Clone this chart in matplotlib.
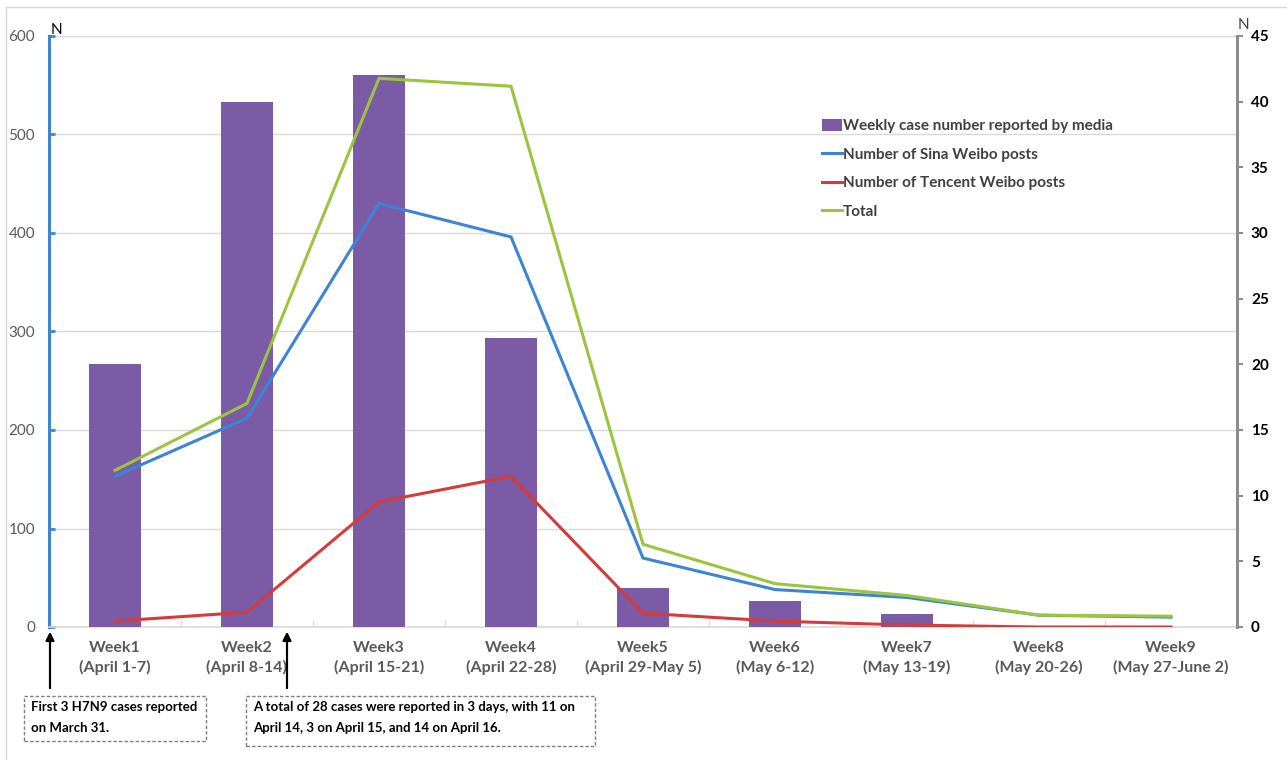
import matplotlib
matplotlib.use("Agg")
import matplotlib.pyplot as plt
from matplotlib.lines import Line2D
from matplotlib.patches import Rectangle, Patch

plt.rcParams['font.family'] = ['Lato', 'DejaVu Sans']

# Weekly data, April 1 - June 2
weeks = ["Week1", "Week2", "Week3", "Week4", "Week5",
         "Week6", "Week7", "Week8", "Week9"]
date_ranges = ["(April 1-7)", "(April 8-14)", "(April 15-21)", "(April 22-28)",
               "(April 29-May 5)", "(May 6-12)", "(May 13-19)", "(May 20-26)",
               "(May 27-June 2)"]
cases_reported = [20, 40, 42, 22, 3, 2, 1, 0, 0]
sina_posts = [153, 212, 430, 396, 70, 38, 30, 12, 10]
tencent_posts = [6, 15, 127, 153, 14, 6, 2, 0, 0]
total_posts = [159, 227, 557, 549, 84, 44, 32, 12, 11]

left_ticks = [0, 100, 200, 300, 400, 500, 600]
right_ticks = [0, 5, 10, 15, 20, 25, 30, 35, 40, 45]

PURPLE = "#7b5aa6"
BLUE = "#3d84d3"
RED = "#d63b3b"
GREEN = "#9bc43f"
GRID = "#d9d9d9"
TEXT_GRAY = "#595959"

W, H = 1287, 760
fig = plt.figure(figsize=(W / 100, H / 100), dpi=100)

def fx(px):
    return px / W

def fy(py):
    return 1 - py / H

ax = fig.add_axes([fx(49), fy(627), fx(1237) - fx(49), fy(36) - fy(627)])
ax2 = ax.twinx()   # case counts (right scale)
ax3 = ax.twinx()   # post counts, drawn on top of the bars

x = list(range(len(weeks)))

# Left axis: post counts, gridlines
ax.set_xlim(-0.5, len(weeks) - 0.5)
ax.set_ylim(0, 600)
ax.set_yticks(left_ticks)
ax.yaxis.grid(True, color=GRID, lw=1)
ax.set_axisbelow(True)
for s in ("top", "right"):
    ax.spines[s].set_visible(False)
ax.spines["left"].set_color(BLUE)
ax.spines["left"].set_linewidth(2.2)
ax.spines["bottom"].set_color(GRID)
ax.spines["bottom"].set_linewidth(1.2)
ax.tick_params(axis="y", direction="in", length=4, width=2, color=BLUE,
               labelsize=11, labelcolor=TEXT_GRAY, pad=10)
ax.set_xticks(x)
ax.set_xticklabels([f"{w}\n{d}" for w, d in zip(weeks, date_ranges)],
                   fontsize=11.5, fontweight="bold", color=TEXT_GRAY,
                   linespacing=1.45)
ax.tick_params(axis="x", length=0, pad=10)
ax.set_xticks([i + 0.5 for i in range(len(weeks) - 1)], minor=True)
ax.tick_params(axis="x", which="minor", direction="in", length=5,
               color=GRID, width=1)

# Right axis: weekly cases as bars
ax2.bar(x, cases_reported, width=0.4, color=PURPLE, zorder=2)
ax2.set_ylim(0, 45)
ax2.set_yticks(right_ticks)
for s in ("top", "left", "bottom"):
    ax2.spines[s].set_visible(False)
ax2.spines["right"].set_color("#8c8c8c")
ax2.spines["right"].set_linewidth(2.2)
ax2.tick_params(axis="y", direction="out", length=4, width=1.5,
                color="#8c8c8c", labelsize=11, labelcolor="black", pad=6)
for lbl in ax2.get_yticklabels():
    lbl.set_fontweight("bold")

# Lines on the post-count scale
ax3.set_ylim(0, 600)
ax3.plot(x, sina_posts, color=BLUE, lw=2.2, solid_joinstyle="miter")
ax3.plot(x, tencent_posts, color=RED, lw=2.2, solid_joinstyle="miter")
ax3.plot(x, total_posts, color=GREEN, lw=2.2, solid_joinstyle="miter")
ax3.set_yticks([])
for s in ax3.spines.values():
    s.set_visible(False)

# Axis unit labels
fig.text(fx(51), fy(30), "N", fontsize=11, color="black", ha="left", va="center")
fig.text(fx(1243), fy(25), "N", fontsize=11, color="#404040", ha="center", va="center")

# Legend
handles = [
    Patch(facecolor=PURPLE, edgecolor="none"),
    Line2D([], [], color=BLUE, lw=2.2),
    Line2D([], [], color=RED, lw=2.2),
    Line2D([], [], color=GREEN, lw=2.2),
]
labels = ["Weekly case number reported by media",
          "Number of Sina Weibo posts",
          "Number of Tencent Weibo posts",
          "Total"]
leg = fig.legend(handles, labels, loc="upper left",
                 bbox_to_anchor=(fx(816), fy(113)), frameon=False,
                 prop={"size": 11, "weight": "bold"}, labelcolor="#404040",
                 handlelength=1.3, handleheight=0.8, handletextpad=0.05,
                 labelspacing=0.94, borderaxespad=0)

# Outer frame (left and top edges)
fig.add_artist(Line2D([fx(6), fx(6)], [fy(7), fy(760)], color=GRID, lw=1))
fig.add_artist(Line2D([fx(6), fx(1287)], [fy(7), fy(7)], color=GRID, lw=1))

# Event arrows
for ax_px in (50, 287):
    fig.add_artist(plt.annotate(
        "", xy=(fx(ax_px), fy(632)), xycoords="figure fraction",
        xytext=(fx(ax_px), fy(688)), textcoords="figure fraction",
        arrowprops=dict(arrowstyle="-|>", color="black", lw=1.5,
                        mutation_scale=12, shrinkA=0, shrinkB=0)))

# Note boxes
boxes = [
    ((24, 696, 206, 741), "First 3 H7N9 cases reported\non March 31."),
    ((246, 696, 595, 746),
     "A total of 28 cases were reported in 3 days, with 11 on\n"
     "April 14, 3 on April 15, and 14 on April 16."),
]
for (x0, y0, x1, y1), txt in boxes:
    fig.add_artist(Rectangle((fx(x0), fy(y1)), fx(x1) - fx(x0), fy(y0) - fy(y1),
                             transform=fig.transFigure, fill=False,
                             edgecolor="#7f7f7f", lw=1, linestyle=(0, (2.5, 1.5))))
    fig.text(fx(x0 + 7), fy(y0 + 5), txt, fontsize=9.5, fontweight="bold",
             color="black", ha="left", va="top", linespacing=1.9)

fig.savefig("out.png", dpi=100, facecolor="white")
